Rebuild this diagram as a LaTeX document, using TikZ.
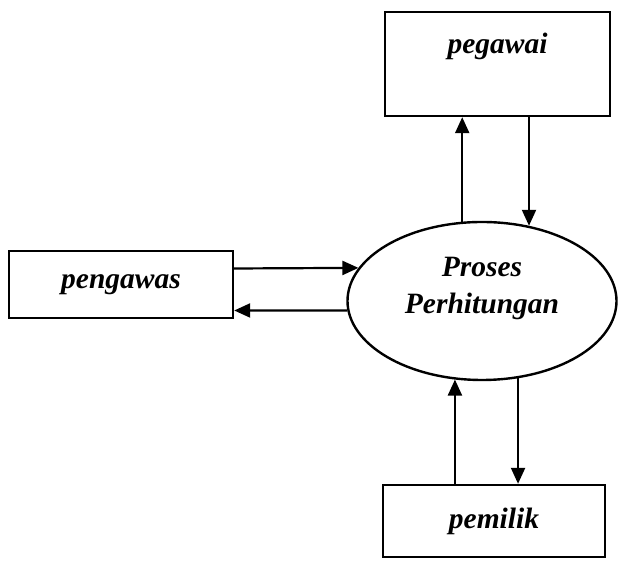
\documentclass[tikz,border=0pt]{standalone}
\usepackage{fontspec}
\setmainfont{Liberation Serif}
\usetikzlibrary{arrows.meta,shapes.geometric}

\begin{document}
\begin{tikzpicture}[
    x=1pt, y=1pt,
    every node/.style={font=\fontsize{29.5}{37}\selectfont\bfseries\itshape},
    box/.style={rectangle, draw, line width=2.4pt, inner sep=0pt},
    proc/.style={ellipse, draw, line width=2.4pt, inner sep=0pt,
                 minimum width=269pt, minimum height=158pt, align=center},
    arrow/.style={line width=2.2pt, ->, >={Triangle[length=16pt,width=14pt]}}
  ]
    \useasboundingbox (0,0) rectangle (619,564);

    % Proses
    \node[proc] (proses) at (482,263) {Proses\\Perhitungan\\[-6pt]};

    % Entitas
    \node[box, minimum width=225pt, minimum height=104pt, text depth=42pt] (pegawai) at (497.5,500) {pegawai};
    \node[box, minimum width=224pt, minimum height=67pt] (pengawas) at (121,279.5) {pengawas};
    \node[box, minimum width=222pt, minimum height=72pt] (pemilik) at (494,43) {pemilik};

    % Aliran data
    \draw[arrow] ([yshift=16pt]pengawas.east) -- (proses.165);
    \draw[arrow] (proses.184) -- ([yshift=-26pt]pengawas.east);
    \draw[arrow] (proses.104) -- (proses.104 |- pegawai.south);
    \draw[arrow] (proses.58 |- pegawai.south) -- (proses.58);
    \draw[arrow] (proses.251 |- pemilik.north) -- (proses.251);
    \draw[arrow] (proses.295) -- (proses.295 |- pemilik.north);
  \end{tikzpicture}
\end{document}
